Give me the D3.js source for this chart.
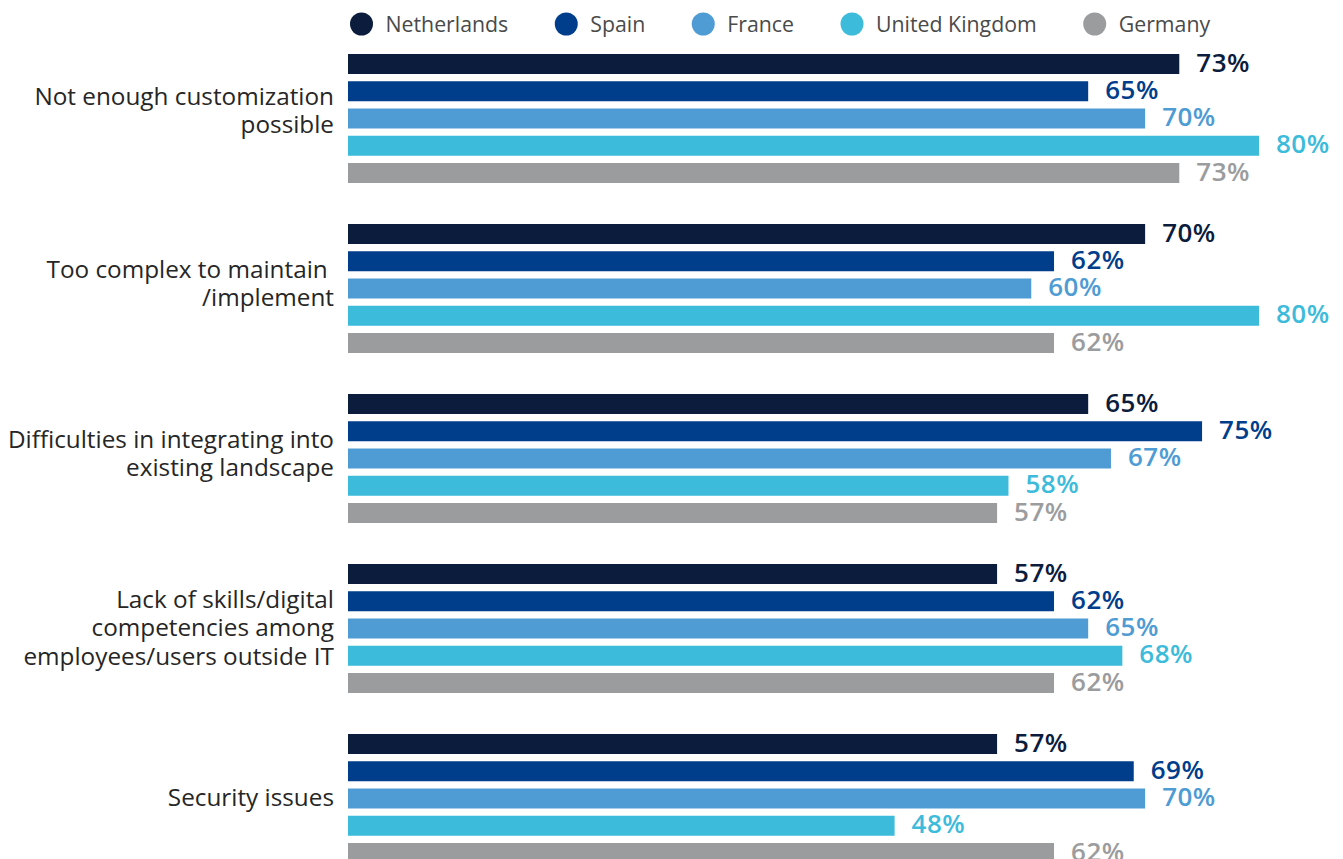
<!DOCTYPE html>
<html>
<head>
<meta charset="utf-8">
<script src="https://cdn.jsdelivr.net/npm/d3@7"></script>
<style>
  html, body { margin: 0; padding: 0; background: #fff; }
  svg { display: block; font-family: "Open Sans", "Noto Sans", sans-serif; }
</style>
</head>
<body>
<svg id="chart" width="1343" height="859"></svg>
<script>
// Barriers to adoption, share of respondents per country
const categories = [
  ["Not enough customization", "possible"],
  ["Too complex to maintain ", "/implement"],
  ["Difficulties in integrating into", "existing landscape"],
  ["Lack of skills/digital", "competencies among", "employees/users outside IT"],
  ["Security issues"]
];
const countries = ["Netherlands", "Spain", "France", "United Kingdom", "Germany"];
const colors = ["#0b1c3d", "#003e8b", "#4f9bd3", "#3cbbdb", "#9b9c9e"];

const netherlands = [73, 70, 65, 57, 57];
const spain       = [65, 62, 75, 62, 69];
const france      = [70, 60, 67, 65, 70];
const uk          = [80, 80, 58, 68, 48];
const germany     = [73, 62, 57, 62, 62];
const seriesValues = [netherlands, spain, france, uk, germany];

const svg = d3.select("#chart");

const x = d3.scaleLinear().domain([0, 80]).range([348, 1259]);

const y0 = d3.scaleBand()
  .domain(d3.range(categories.length))
  .range([54, 54 + 170 * 5])
  .paddingInner(0)
  .paddingOuter(0);

const barStep = 27.25;
const barH = 20;
const groupH = barStep * 4 + barH;

// Legend
const legend = svg.append("g").attr("class", "legend");
let lx = 361.5;
countries.forEach((c, i) => {
  const g = legend.append("g").attr("transform", `translate(${lx},24)`);
  g.append("circle").attr("r", 11.5).attr("fill", colors[i]);
  const t = g.append("text")
    .attr("x", 24).attr("y", 8)
    .attr("font-size", 21.3)
    .attr("fill", "#4a4a4a")
    .text(c);
  lx += 24 + t.node().getComputedTextLength() + 58;
});

// Groups
categories.forEach((lines, gi) => {
  const gy = y0(gi);
  const g = svg.append("g").attr("transform", `translate(0,${gy})`);

  countries.forEach((c, si) => {
    const v = seriesValues[si][gi];
    const by = si * barStep;
    g.append("rect")
      .attr("x", x(0))
      .attr("y", by)
      .attr("width", x(v) - x(0))
      .attr("height", barH)
      .attr("fill", colors[si]);
    g.append("text")
      .attr("x", x(v) + 17)
      .attr("y", by + barH / 2 + 7.5)
      .attr("font-size", 26)
      .attr("font-weight", 600)
      .attr("letter-spacing", 0.5)
      .attr("fill", colors[si])
      .text(v + "%");
  });

  const lineH = 28.5;
  const n = lines.length;
  const shift = n === 2 ? (gi === 0 ? -7 : -4) : 0;
  const startY = groupH / 2 + 7.5 - (n - 1) * lineH / 2 + shift;
  const label = g.append("text")
    .attr("text-anchor", "end")
    .attr("font-size", 24.3)
    .attr("fill", "#262626")
    .style("white-space", "pre");
  lines.forEach((ln, li) => {
    label.append("tspan")
      .attr("x", 334)
      .attr("y", startY + li * lineH)
      .text(ln);
  });
});
</script>
</body>
</html>
